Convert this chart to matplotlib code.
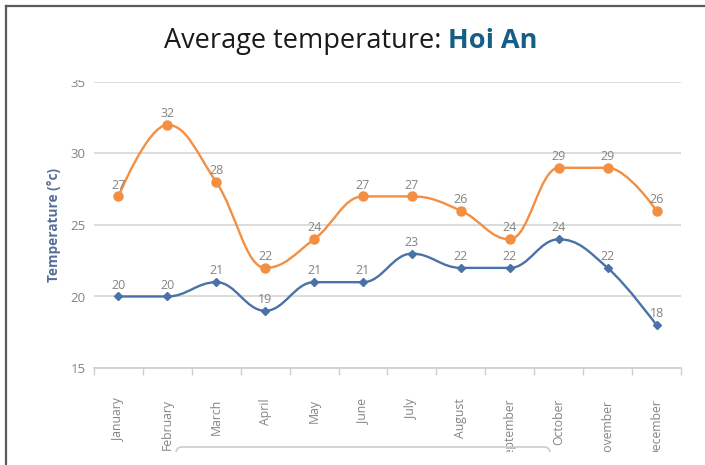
import numpy as np
import matplotlib
matplotlib.use("Agg")
import matplotlib.pyplot as plt
from matplotlib.path import Path
from matplotlib.patches import PathPatch, Rectangle, FancyBboxPatch
from matplotlib.lines import Line2D
from matplotlib.transforms import IdentityTransform

# ==== DATA ====
months = ["January", "February", "March", "April", "May", "June", "July",
          "August", "September", "October", "November", "December"]
low_temp = [20, 20, 21, 19, 21, 21, 23, 22, 22, 24, 22, 18]
high_temp = [27, 32, 28, 22, 24, 27, 27, 26, 24, 29, 29, 26]
y_ticks = [15, 20, 25, 30, 35]

ORANGE = "#f28f43"
BLUE = "#4a72a6"
GRAY_TXT = "#848484"
plt.rcParams["font.family"] = ["Open Sans", "DejaVu Sans"]


def spline_path(xs, ys, smoothing=1.5):
    # highcharts-like spline: bezier control points per point
    n = len(xs)
    left = [(xs[i], ys[i]) for i in range(n)]
    right = [(xs[i], ys[i]) for i in range(n)]
    d = smoothing + 1
    for i in range(1, n - 1):
        x, y = xs[i], ys[i]
        lx, ly = xs[i - 1], ys[i - 1]
        nx, ny = xs[i + 1], ys[i + 1]
        lcx = (smoothing * x + lx) / d
        lcy = (smoothing * y + ly) / d
        rcx = (smoothing * x + nx) / d
        rcy = (smoothing * y + ny) / d
        corr = (rcy - lcy) * (rcx - x) / (rcx - lcx) + y - rcy
        lcy += corr
        rcy += corr
        if lcy > ly and lcy > y:
            lcy = max(ly, y)
            rcy = 2 * y - lcy
        elif lcy < ly and lcy < y:
            lcy = min(ly, y)
            rcy = 2 * y - lcy
        if rcy > ny and rcy > y:
            rcy = max(ny, y)
            lcy = 2 * y - rcy
        elif rcy < ny and rcy < y:
            rcy = min(ny, y)
            lcy = 2 * y - rcy
        left[i] = (lcx, lcy)
        right[i] = (rcx, rcy)
    verts = [(xs[0], ys[0])]
    codes = [Path.MOVETO]
    for i in range(1, n):
        verts += [right[i - 1], left[i], (xs[i], ys[i])]
        codes += [Path.CURVE4] * 3
    return Path(verts, codes)


fig = plt.figure(figsize=(7.05, 4.65), dpi=100)
ax = fig.add_axes([94 / 705, 1 - 368 / 465, (681 - 94) / 705, (368 - 82) / 465])

x = np.arange(len(months))
for vals, col, mk, ms in [(high_temp, ORANGE, "o", 6.5), (low_temp, BLUE, "D", 4.5)]:
    ax.add_patch(PathPatch(spline_path(x, vals), fill=False, edgecolor=col, lw=1.7, zorder=3))
    ax.plot(x, vals, ls="none", marker=mk, ms=ms, color=col, zorder=4)
    for xi, v in zip(x, vals):
        ax.annotate(str(v), (xi, v), xytext=(0, 3.5), textcoords="offset points",
                    ha="center", va="bottom", fontsize=9, color=GRAY_TXT, zorder=5)

ax.set_xlim(-0.5, 11.5)
ax.set_ylim(15, 35)
ax.set_yticks(y_ticks)
ax.set_xticks(x)
ax.set_xticklabels(months, rotation=90, fontsize=8.8, color=GRAY_TXT, va="top")
ax.set_xticks(np.arange(-0.5, 12, 1), minor=True)
ax.tick_params(axis="x", which="major", length=0, pad=22)
ax.tick_params(axis="x", which="minor", length=5, color="#d0d0d0", width=1)
ax.tick_params(axis="y", length=0, pad=6, labelsize=9.5, labelcolor=GRAY_TXT)
ax.grid(axis="y", color="#d9d9d9", lw=1.3)
ax.set_axisbelow(True)
for s in ["top", "right", "left"]:
    ax.spines[s].set_visible(False)
ax.spines["bottom"].set_color("#d0d0d0")
ax.spines["bottom"].set_linewidth(1.3)
ax.set_ylabel("Temperature (°c)", color="#54709a", fontsize=9.8, fontweight="bold", labelpad=7)

# white cover above plot and below labels (cropped screenshot look)
fig.patches.append(Rectangle((0, 1 - 80 / 465), 1, 80 / 465, transform=fig.transFigure,
                             facecolor="white", edgecolor="none", zorder=5))
fig.patches.append(FancyBboxPatch((176, -40), 374, 58, boxstyle="round,pad=0,rounding_size=6",
                                  transform=IdentityTransform(), facecolor="none",
                                  edgecolor="#cccccc", lw=1.2, zorder=4))
fig.patches.append(Rectangle((0, 0), 1, 13 / 465, transform=fig.transFigure,
                             facecolor="white", edgecolor="none", zorder=5))

# frame
fig.lines.append(Line2D([6 / 705, 6 / 705], [0, 1 - 6 / 465], transform=fig.transFigure,
                        color="#5a5a5a", lw=1.6, zorder=10))
fig.lines.append(Line2D([6 / 705, 1], [1 - 6 / 465, 1 - 6 / 465], transform=fig.transFigure,
                        color="#5a5a5a", lw=1.6, zorder=10))

# title in two colours
r = fig.canvas.get_renderer()
t1 = fig.text(0, 1 - 48 / 465, "Average temperature: ", fontsize=19.5, color="#1a1a1a",
              va="baseline", ha="left", zorder=10)
t2 = fig.text(0, 1 - 48 / 465, "Hoi An", fontsize=19.5, color="#175e84", fontweight="bold",
              va="baseline", ha="left", zorder=10)
w1 = t1.get_window_extent(r).width
w2 = t2.get_window_extent(r).width
x0 = 351 - (w1 + w2) / 2
t1.set_x(x0 / 705)
t2.set_x((x0 + w1) / 705)

fig.savefig("out.png", dpi=100)
